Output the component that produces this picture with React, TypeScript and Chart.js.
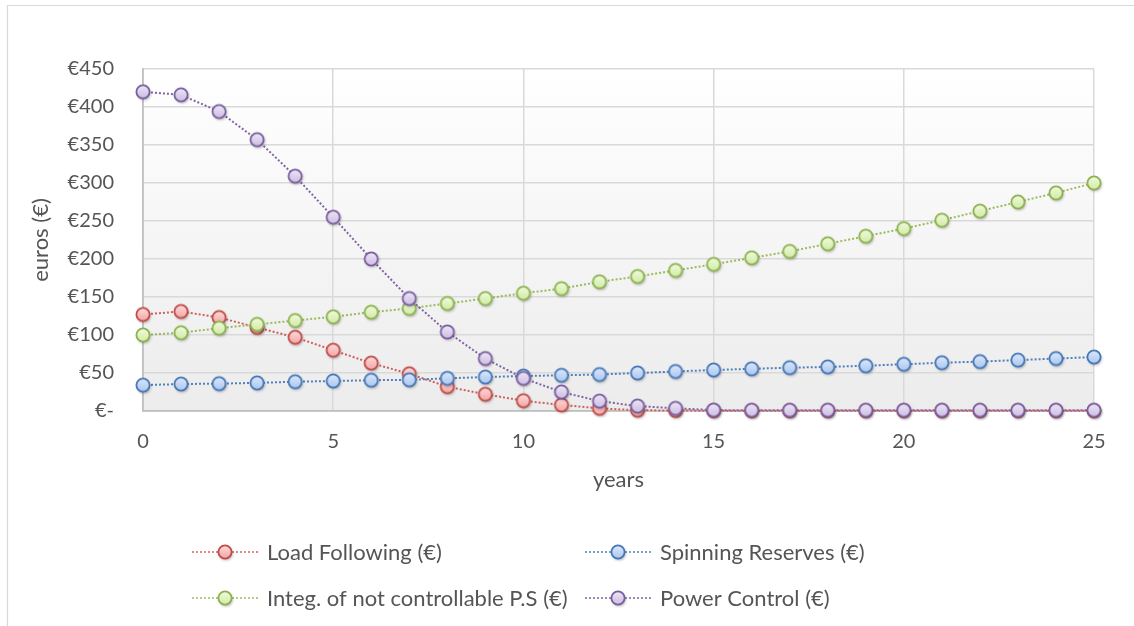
import { useEffect, useRef } from "react";
import { Chart, registerables } from "chart.js";

Chart.register(...registerables);

// Yearly cost of each ancillary service, in euros
const years = [0, 1, 2, 3, 4, 5, 6, 7, 8, 9, 10, 11, 12, 13, 14, 15, 16, 17, 18, 19, 20, 21, 22, 23, 24, 25];
const loadFollowing = [127, 131, 123, 110, 97, 80, 63, 49, 32, 22, 13.5, 8, 3.5, 1, 0.6, 0.4, 0.3, 0.3, 0.3, 0.3, 0.3, 0.3, 0.3, 0.3, 0.3, 0.3];
const spinningReserves = [34, 35.5, 36, 37, 38.5, 39.5, 40.5, 41, 43, 44.7, 46, 47, 48, 50, 52, 54, 55.5, 57, 58, 59.5, 61.5, 63.5, 65, 67, 69, 71];
const integNotControllable = [100, 103, 109, 114, 119, 124, 130, 135, 141.5, 148, 155, 161, 170, 177, 185, 193, 201.5, 210, 220, 230, 240, 251, 263, 275, 287, 300];
const powerControl = [420, 416, 394, 357, 309, 255, 200, 148, 104, 69, 43, 25, 13, 6.5, 3.5, 1.2, 1, 1, 1, 1, 1, 1, 1, 1, 1, 1];

const seriesLabels = [
  "Load Following (€)",
  "Spinning Reserves (€)",
  "Integ. of not controllable P.S (€)",
  "Power Control (€)",
];

const yMin = 0;
const yMax = 450;
const yStep = 50;
const xMin = 0;
const xMax = 25;
const xStep = 5;

const FONT = "Lato, 'Open Sans', sans-serif";
const TEXT = "#555555";
const TICK_SIZE = 20;
const LABEL_SIZE = 22;

type Palette = { line: string; light: string; dark: string; border: string };

const palettes: Palette[] = [
  { line: "#cf5f5c", light: "#ffdedd", dark: "#f2a2a0", border: "#be4b48" },
  { line: "#4f81bd", light: "#dde9fc", dark: "#a8c5f0", border: "#4677b5" },
  { line: "#9bbb59", light: "#f1fbdf", dark: "#d0eaa3", border: "#8cb24f" },
  { line: "#8064a2", light: "#eee8f7", dark: "#cbbce1", border: "#7a5c9f" },
];

// Round marker with a soft vertical gradient and a small drop shadow
function makeMarker(p: Palette): HTMLCanvasElement {
  const c = document.createElement("canvas");
  c.width = 22;
  c.height = 22;
  const g = c.getContext("2d")!;
  const grad = g.createLinearGradient(0, 4, 0, 18);
  grad.addColorStop(0, p.light);
  grad.addColorStop(1, p.dark);
  g.shadowColor = "rgba(0,0,0,0.35)";
  g.shadowBlur = 3;
  g.shadowOffsetX = 1;
  g.shadowOffsetY = 1.5;
  g.beginPath();
  g.arc(11, 11, 6.6, 0, Math.PI * 2);
  g.fillStyle = grad;
  g.fill();
  g.shadowColor = "transparent";
  g.lineWidth = 1.8;
  g.strokeStyle = p.border;
  g.stroke();
  return c;
}

export default function App() {
  const canvasRef = useRef<HTMLCanvasElement | null>(null);

  useEffect(() => {
    const canvas = canvasRef.current;
    if (!canvas) return;
    const markers = palettes.map(makeMarker);
    const values = [loadFollowing, spinningReserves, integNotControllable, powerControl];
    // later series sit on top of earlier ones
    const drawOrder = [3, 2, 1, 0];

    const frameAndBackground = {
      id: "frameAndBackground",
      beforeDraw(chart: any) {
        const { ctx, chartArea } = chart;
        ctx.save();
        ctx.fillStyle = "#ffffff";
        ctx.fillRect(0, 0, chart.width, chart.height);
        ctx.strokeStyle = "#d9d9d9";
        ctx.lineWidth = 1.2;
        ctx.beginPath();
        ctx.moveTo(7.5, chart.height);
        ctx.lineTo(7.5, 5.5);
        ctx.lineTo(chart.width, 5.5);
        ctx.stroke();
        const g = ctx.createLinearGradient(0, chartArea.top, 0, chartArea.bottom);
        g.addColorStop(0, "#ffffff");
        g.addColorStop(1, "#ececec");
        ctx.fillStyle = g;
        ctx.fillRect(chartArea.left, chartArea.top, chartArea.right - chartArea.left, chartArea.bottom - chartArea.top);
        ctx.restore();
      },
    };

    const legendX = [225, 618];
    const legendY = [552, 598];
    const seriesLegend = {
      id: "seriesLegend",
      afterDraw(chart: any) {
        const ctx = chart.ctx as CanvasRenderingContext2D;
        chart.data.datasets.forEach((ds: any, i: number) => {
          const cx = legendX[i % 2];
          const cy = legendY[Math.floor(i / 2)];
          ctx.save();
          ctx.strokeStyle = ds.borderColor;
          ctx.lineWidth = 1.5;
          ctx.setLineDash([2, 2]);
          ctx.beginPath();
          ctx.moveTo(cx - 33, cy);
          ctx.lineTo(cx + 33, cy);
          ctx.stroke();
          ctx.setLineDash([]);
          const m = markers[i];
          ctx.drawImage(m, cx - m.width / 2, cy - m.height / 2);
          ctx.fillStyle = TEXT;
          ctx.font = `${LABEL_SIZE}px ${FONT}`;
          ctx.textBaseline = "middle";
          ctx.textAlign = "left";
          ctx.fillText(ds.label, cx + 42, cy + 1);
          ctx.restore();
        });
      },
    };

    const chart = new Chart(canvas, {
      type: "line",
      data: {
        datasets: seriesLabels.map((label, i) => ({
          label,
          data: years.map((x, k) => ({ x, y: values[i][k] })),
          borderColor: palettes[i].line,
          borderWidth: 2,
          borderDash: [2, 2],
          pointStyle: markers[i],
          pointRadius: 7,
          pointHoverRadius: 7,
          tension: 0,
          fill: false,
          clip: false as any,
          order: drawOrder[i],
        })),
      },
      options: {
        responsive: false,
        animation: false,
        devicePixelRatio: 1,
        events: [],
        layout: { padding: { left: 0, top: 69, right: 40, bottom: 130 } },
        plugins: {
          legend: { display: false },
          tooltip: { enabled: false },
        },
        scales: {
          x: {
            type: "linear",
            min: xMin,
            max: xMax,
            afterFit: (scale: any) => {
              scale.height = 85;
            },
            ticks: {
              stepSize: xStep,
              padding: 19,
              color: TEXT,
              font: { family: FONT, size: TICK_SIZE },
              maxRotation: 0,
            },
            grid: { color: "#d9d9d9", lineWidth: 1.5, drawTicks: false },
            border: { color: "#bfbfbf", width: 1.8 },
            title: {
              display: true,
              text: "years",
              color: TEXT,
              font: { family: FONT, size: LABEL_SIZE },
              padding: { top: 0, bottom: 3 },
            },
          },
          y: {
            type: "linear",
            min: yMin,
            max: yMax,
            afterFit: (scale: any) => {
              scale.width = 143;
            },
            ticks: {
              stepSize: yStep,
              padding: 29,
              color: TEXT,
              font: { family: FONT, size: TICK_SIZE },
              callback: (v: any) => (Number(v) === 0 ? "€-" : `€${v}`),
            },
            grid: { color: "#d9d9d9", lineWidth: 1.5, drawTicks: false },
            border: { color: "#bfbfbf", width: 1.8 },
            title: {
              display: true,
              text: "euros (€)",
              color: TEXT,
              font: { family: FONT, size: LABEL_SIZE },
              padding: { top: 28, bottom: 0 },
            },
          },
        },
      },
      plugins: [frameAndBackground, seriesLegend],
    });

    return () => chart.destroy();
  }, []);

  return (
    <div style={{ position: "absolute", left: 0, top: 0, width: 1134, height: 626 }}>
      <canvas ref={canvasRef} width={1134} height={626} style={{ display: "block" }} />
    </div>
  );
}
